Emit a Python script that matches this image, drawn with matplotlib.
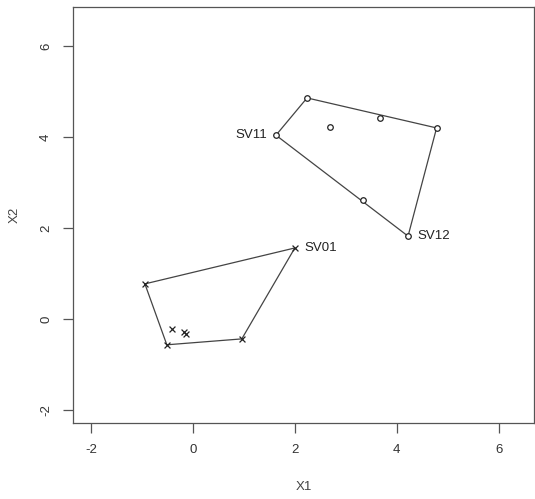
import matplotlib
matplotlib.use("Agg")
import matplotlib.pyplot as plt
import numpy as np

plt.rcParams['font.family'] = ['Liberation Sans', 'DejaVu Sans']

# class -1 observations (drawn with "x")
neg_x1 = [2.00, -0.94, -0.51, 0.96, -0.41, -0.18, -0.14]
neg_x2 = [1.56, 0.77, -0.57, -0.44, -0.22, -0.29, -0.33]
# class +1 observations (drawn with "o")
pos_x1 = [1.63, 2.24, 2.69, 3.67, 4.78, 3.33, 4.22]
pos_x2 = [4.04, 4.86, 4.22, 4.42, 4.20, 2.62, 1.82]

# support vectors: (label, x1, x2)
sv_labels = ["SV01", "SV11", "SV12"]
sv_x1 = [2.00, 1.63, 4.22]
sv_x2 = [1.56, 4.04, 1.82]
sv_side = ["right", "left", "right"]

x_ticks = [-2, 0, 2, 4, 6]
y_ticks = [-2, 0, 2, 4, 6]


def convex_hull(xs, ys):
    pts = sorted(set(zip(xs, ys)))
    if len(pts) < 3:
        return pts

    def cross(o, a, b):
        return (a[0] - o[0]) * (b[1] - o[1]) - (a[1] - o[1]) * (b[0] - o[0])

    lower, upper = [], []
    for p in pts:
        while len(lower) >= 2 and cross(lower[-2], lower[-1], p) <= 0:
            lower.pop()
        lower.append(p)
    for p in reversed(pts):
        while len(upper) >= 2 and cross(upper[-2], upper[-1], p) <= 0:
            upper.pop()
        upper.append(p)
    return lower[:-1] + upper[:-1]


W, H = 535, 499
fig = plt.figure(figsize=(W / 100, H / 100), dpi=100)
ax = fig.add_axes([73 / W, (H - 423) / H, (534 - 73) / W, (423 - 7) / H])

line_col = "#444444"
for xs, ys, mk in [(neg_x1, neg_x2, "x"), (pos_x1, pos_x2, "o")]:
    hull = convex_hull(xs, ys)
    hx = [p[0] for p in hull] + [hull[0][0]]
    hy = [p[1] for p in hull] + [hull[0][1]]
    ax.plot(hx, hy, color=line_col, lw=0.9, zorder=2)
    if mk == "x":
        ax.scatter(xs, ys, marker="x", s=18, color="#222222", linewidths=0.9, zorder=3)
    else:
        ax.scatter(xs, ys, marker="o", s=16, facecolors="white",
                   edgecolors="#222222", linewidths=0.9, zorder=3)

for lab, x, y, side in zip(sv_labels, sv_x1, sv_x2, sv_side):
    dx = 0.18 if side == "right" else -0.18
    ax.text(x + dx, y, lab, ha="left" if side == "right" else "right",
            va="center", fontsize=9.5, color="#222222")

ax.set_xlim(-2.35, 6.69)
ax.set_ylim(-2.29, 6.86)
ax.set_xticks(x_ticks)
ax.set_yticks(y_ticks)
ax.set_xticklabels([str(t) for t in x_ticks])
ax.set_yticklabels([str(t) for t in y_ticks], rotation=90, va="center")
ax.tick_params(direction="out", length=7, width=0.9, colors="#555555",
               labelcolor="#333333", labelsize=9.5, pad=8)
for s in ax.spines.values():
    s.set_color("#555555")
    s.set_linewidth(0.9)
ax.set_xlabel("X1", fontsize=9.5, color="#444444", labelpad=18)
ax.set_ylabel("X2", fontsize=9.5, color="#444444", labelpad=14)

fig.savefig("out.png", dpi=100)
